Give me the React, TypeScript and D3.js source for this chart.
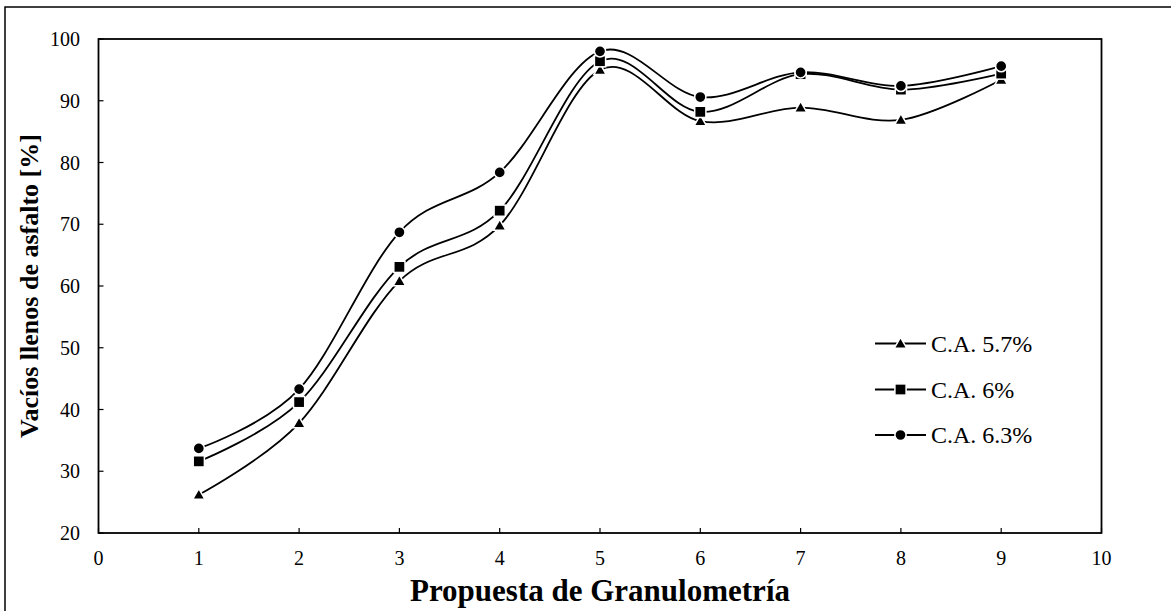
import React from "react";
import * as d3 from "d3";

const xValues = [1, 2, 3, 4, 5, 6, 7, 8, 9];
const ca57 = [26.2, 37.8, 60.8, 69.8, 95.0, 86.7, 88.9, 86.9, 93.4];
const ca60 = [31.6, 41.2, 63.1, 72.2, 96.4, 88.2, 94.3, 91.8, 94.4];
const ca63 = [33.7, 43.3, 68.7, 78.4, 98.0, 90.6, 94.6, 92.4, 95.6];
const seriesNames = ["C.A. 5.7%", "C.A. 6%", "C.A. 6.3%"];
const markerTypes = ["triangle", "square", "circle"];
const xTicks = [0, 1, 2, 3, 4, 5, 6, 7, 8, 9, 10];
const yTicks = [20, 30, 40, 50, 60, 70, 80, 90, 100];
const xTitle = "Propuesta de Granulometría";
const yTitle = "Vacíos llenos de asfalto [%]";

const W = 1171;
const H = 611;
const plot = { left: 98.5, right: 1101.5, top: 39, bottom: 533 };
const FONT = "'Liberation Serif', 'Times New Roman', 'DejaVu Serif', serif";

function Marker({ type, x, y }: { type: string; x: number; y: number }) {
  if (type === "circle")
    return <circle cx={x} cy={y} r={5.6} fill="#000" stroke="#fff" strokeWidth={1.5} />;
  if (type === "square")
    return <rect x={x - 5.6} y={y - 5.6} width={11.2} height={11.2} fill="#000" stroke="#fff" strokeWidth={1.5} />;
  const s = 6.2;
  return (
    <path
      d={`M${x},${y - s} L${x + s},${y + s * 0.75} L${x - s},${y + s * 0.75} Z`}
      fill="#000"
      stroke="#fff"
      strokeWidth={1.5}
    />
  );
}

export default function App() {
  const x = d3.scaleLinear().domain([0, 10]).range([plot.left, plot.right]);
  const y = d3.scaleLinear().domain([20, 100]).range([plot.bottom, plot.top]);
  const line = d3
    .line<[number, number]>()
    .x((d) => x(d[0]))
    .y((d) => y(d[1]))
    .curve(d3.curveCatmullRom.alpha(0));
  const series = [ca57, ca60, ca63];

  const legendX1 = 875;
  const legendX2 = 926;
  const legendYs = [343.5, 389.5, 435];

  return (
    <svg
      width={W}
      height={H}
      style={{ position: "absolute", left: 0, top: 0, background: "#fff" }}
    >
      <rect x={0} y={0} width={W} height={H} fill="#fff" />
      <rect x={5} y={7} width={W + 20} height={H + 20} fill="none" stroke="#000" strokeWidth={1.5} />

      <rect
        x={plot.left}
        y={plot.top}
        width={plot.right - plot.left}
        height={plot.bottom - plot.top}
        fill="none"
        stroke="#000"
        strokeWidth={1.8}
      />

      {yTicks.map((t) => (
        <g key={"y" + t}>
          <line x1={plot.left} x2={plot.left + 5} y1={y(t)} y2={y(t)} stroke="#000" strokeWidth={1.2} />
          <text
            x={80}
            y={y(t)}
            textAnchor="end"
            dominantBaseline="central"
            fontFamily={FONT}
            fontSize={20}
          >
            {t}
          </text>
        </g>
      ))}
      {xTicks.map((t) => (
        <g key={"x" + t}>
          <line x1={x(t)} x2={x(t)} y1={plot.bottom} y2={plot.bottom - 5} stroke="#000" strokeWidth={1.2} />
          <text
            x={x(t)}
            y={558}
            textAnchor="middle"
            dominantBaseline="central"
            fontFamily={FONT}
            fontSize={20}
          >
            {t}
          </text>
        </g>
      ))}

      {series.map((vals, i) => {
        const pts = xValues.map((xv, j) => [xv, vals[j]] as [number, number]);
        return (
          <g key={"s" + i}>
            <path d={line(pts) || ""} fill="none" stroke="#000" strokeWidth={1.8} />
          </g>
        );
      })}
      {series.map((vals, i) => (
        <g key={"m" + i}>
          {xValues.map((xv, j) => (
            <Marker key={j} type={markerTypes[i]} x={x(xv)} y={y(vals[j])} />
          ))}
        </g>
      ))}

      {seriesNames.map((name, i) => (
        <g key={"l" + i}>
          <line x1={legendX1} x2={legendX2} y1={legendYs[i]} y2={legendYs[i]} stroke="#000" strokeWidth={1.8} />
          <Marker type={markerTypes[i]} x={(legendX1 + legendX2) / 2} y={legendYs[i]} />
          <text
            x={931}
            y={legendYs[i]}
            dominantBaseline="central"
            fontFamily={FONT}
            fontSize={24}
          >
            {name}
          </text>
        </g>
      ))}

      <text
        x={(plot.left + plot.right) / 2}
        y={590}
        textAnchor="middle"
        dominantBaseline="central"
        fontFamily={FONT}
        fontWeight="bold"
        fontSize={31}
      >
        {xTitle}
      </text>
      <text
        transform={`translate(29,${(plot.top + plot.bottom) / 2}) rotate(-90)`}
        textAnchor="middle"
        dominantBaseline="central"
        fontFamily={FONT}
        fontWeight="bold"
        fontSize={26}
      >
        {yTitle}
      </text>
    </svg>
  );
}
